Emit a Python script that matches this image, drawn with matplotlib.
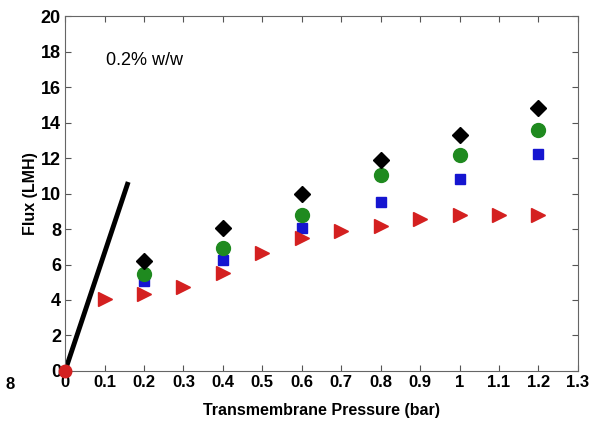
import matplotlib.pyplot as plt

plt.rcParams['font.family'] = ['Liberation Sans', 'DejaVu Sans']

# flux readings at each transmembrane pressure
tmp_main = [0.2, 0.4, 0.6, 0.8, 1.0, 1.2]
flux_diamond = [6.2, 8.05, 9.95, 11.9, 13.3, 14.8]
flux_circle = [5.45, 6.95, 8.8, 11.05, 12.15, 13.6]
flux_square = [5.05, 6.25, 8.05, 9.5, 10.8, 12.2]

tmp_tri = [0.1, 0.2, 0.3, 0.4, 0.5, 0.6, 0.7, 0.8, 0.9, 1.0, 1.1, 1.2]
flux_tri = [4.05, 4.35, 4.75, 5.5, 6.65, 7.5, 7.9, 8.15, 8.55, 8.8, 8.8, 8.8]

# pure water line
water_x = [0.0, 0.16]
water_y = [0.0, 10.65]

xticks = [0, 0.1, 0.2, 0.3, 0.4, 0.5, 0.6, 0.7, 0.8, 0.9, 1, 1.1, 1.2, 1.3]
xticklabels = ['0', '0.1', '0.2', '0.3', '0.4', '0.5', '0.6', '0.7', '0.8', '0.9', '1', '1.1', '1.2', '1.3']
yticks = list(range(0, 21, 2))

fig = plt.figure(figsize=(5.97, 4.23), dpi=100)
ax = fig.add_axes([0.109, 0.123, 0.859, 0.839])

ax.plot(water_x, water_y, color='black', lw=3.5, solid_capstyle='butt', zorder=2)
ax.plot(tmp_main, flux_square, 's', color='#1515d0', ms=7.5, ls='none', zorder=3)
ax.plot(tmp_main, flux_circle, 'o', color='#1f8a1f', ms=10, ls='none', zorder=4)
ax.plot(tmp_main, flux_diamond, 'D', color='black', ms=8.5, ls='none', zorder=5)
ax.plot(tmp_tri, flux_tri, '>', color='#d42020', ms=10.5, ls='none', zorder=6)
ax.plot([0], [0], 'o', color='#d42020', ms=9, clip_on=False, zorder=7)

ax.text(0.105, 17.5, '0.2% w/w', fontsize=13, va='center', ha='left')

ax.set_xlim(0, 1.3)
ax.set_ylim(0, 20)
ax.set_xticks(xticks)
ax.set_xticklabels(xticklabels)
ax.set_yticks(yticks)
ax.tick_params(direction='in', top=True, right=True, length=4, color='#555555', pad=3)
for lab in ax.get_xticklabels():
    lab.set_fontweight('bold')
    lab.set_fontsize(12)
for lab in ax.get_yticklabels():
    lab.set_fontweight('bold')
    lab.set_fontsize(13)
for sp in ax.spines.values():
    sp.set_color('#666666')

ax.set_xlabel('Transmembrane Pressure (bar)', fontsize=11.5, fontweight='bold', labelpad=9)
ax.set_ylabel('Flux (LMH)', fontsize=11.5, fontweight='bold', labelpad=2)

fig.text(0.017, 0.09, '8', fontsize=12, fontweight='bold', ha='center', va='center')

fig.savefig('out.png', dpi=100)
